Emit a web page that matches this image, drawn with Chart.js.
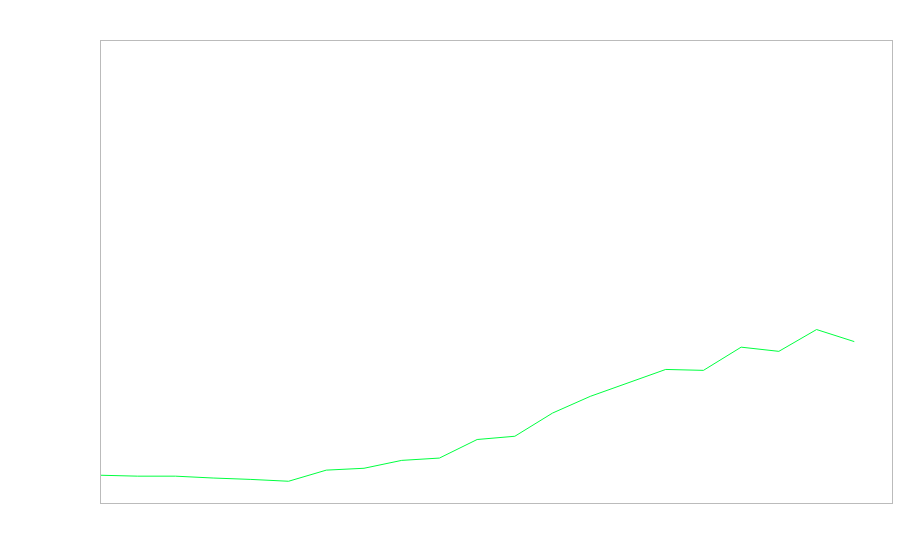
<!DOCTYPE html>
<html>
<head>
<meta charset="utf-8">
<script src="https://cdn.jsdelivr.net/npm/chart.js@4/dist/chart.umd.min.js"></script>
<style>
  body { margin: 0; background: #fff; }
  canvas { display: block; }
</style>
</head>
<body>
<canvas id="myChart" width="900" height="560"></canvas>
<script>
'use strict'

// data (no labels shown, so indices only)
var steps = ["0","1","2","3","4","5","6","7","8","9","10","11","12","13","14","15","16","17","18","19","20","21"];
var values = [6.2, 6.0, 6.0, 5.6, 5.3, 4.9, 7.3, 7.7, 9.4, 9.9, 13.9, 14.6, 19.6, 23.2, 26.1, 29.0, 28.8, 33.8, 32.9, 37.6, 35.0];
var yMin = 0;
var yMax = 100;

// frame around the plot area
var frame = {
	id: 'frame',
	afterDraw: function(chart) {
		var a = chart.chartArea;
		var ctx = chart.ctx;
		ctx.save();
		ctx.strokeStyle = '#bbbbbb';
		ctx.lineWidth = 1;
		ctx.strokeRect(Math.round(a.left) + 0.5, Math.round(a.top) + 0.5,
			Math.round(a.right - a.left), Math.round(a.bottom - a.top) - 1);
		ctx.restore();
	}
};

var ctx = document.getElementById('myChart').getContext('2d');
var chart = new Chart(ctx, {
	type: 'line',
	data: {
		labels: steps,
		datasets: [{
			data: values,
			borderColor: 'rgb(0,255,64)',
			borderWidth: 1,
			pointRadius: 0,
			tension: 0,
			fill: false
		}]
	},
	options: {
		responsive: false,
		animation: false,
		layout: { padding: { left: 100, top: 40, right: 8, bottom: 56 } },
		plugins: { legend: { display: false }, tooltip: { enabled: false } },
		scales: {
			x: { display: false },
			y: { display: false, min: yMin, max: yMax }
		}
	},
	plugins: [frame]
});
</script>
</body>
</html>
